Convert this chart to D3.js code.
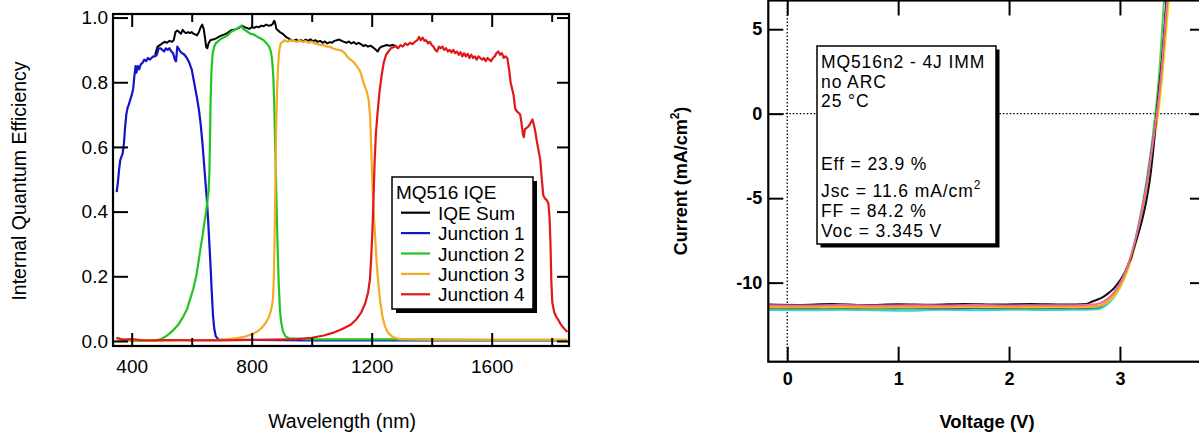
<!DOCTYPE html>
<html>
<head>
<meta charset="utf-8">
<script src="https://cdn.jsdelivr.net/npm/d3@7"></script>
<style>
  body { margin: 0; background: #fff; }
  svg { display: block; font-family: "Liberation Sans", Arial, Helvetica, sans-serif; }
</style>
</head>
<body>
<svg id="chart" width="1199" height="434"></svg>
<script>
// ---- IQE panel data (wavelength nm, IQE) ----
const iqeSum = [[478,0.885],[486,0.91],[494,0.915],[502,0.92],[510,0.925],[518,0.922],[526,0.928],[534,0.925],[540,0.93],[546,0.955],[552,0.96],[558,0.955],[564,0.95],[570,0.962],[576,0.955],[582,0.952],[588,0.955],[594,0.952],[600,0.955],[606,0.95],[612,0.948],[618,0.945],[624,0.955],[630,0.97],[635,0.978],[640,0.965],[644,0.94],[648,0.91],[652,0.905],[656,0.92],[662,0.93],[670,0.932],[680,0.935],[690,0.94],[700,0.945],[710,0.948],[720,0.953],[730,0.96],[740,0.962],[750,0.965],[760,0.97],[768,0.975],[776,0.97],[784,0.968],[792,0.965],[800,0.97],[808,0.968],[816,0.972],[824,0.97],[832,0.975],[840,0.973],[848,0.978],[856,0.975],[864,0.976],[870,0.98],[875,0.99],[878,0.985],[882,0.965],[888,0.96],[894,0.955],[900,0.952],[906,0.948],[912,0.942],[918,0.938],[924,0.935],[932,0.93],[940,0.928],[948,0.932],[956,0.927],[964,0.93],[972,0.926],[980,0.932],[988,0.928],[996,0.933],[1004,0.927],[1012,0.93],[1020,0.925],[1028,0.928],[1036,0.922],[1044,0.926],[1052,0.92],[1060,0.924],[1068,0.922],[1076,0.928],[1084,0.93],[1092,0.932],[1100,0.928],[1108,0.925],[1116,0.922],[1124,0.926],[1132,0.92],[1140,0.924],[1148,0.918],[1156,0.922],[1164,0.918],[1172,0.912],[1180,0.915],[1188,0.91],[1196,0.913],[1204,0.908],[1212,0.902],[1220,0.895],[1226,0.905],[1232,0.91],[1240,0.912],[1250,0.915],[1260,0.913],[1270,0.915],[1280,0.912],[1288,0.905]];

const iqeJ1 = [[350,0.46],[354,0.49],[358,0.53],[362,0.56],[366,0.57],[370,0.58],[374,0.61],[378,0.66],[382,0.70],[386,0.72],[390,0.73],[395,0.745],[400,0.76],[405,0.78],[409,0.82],[413,0.85],[416,0.83],[420,0.85],[425,0.84],[430,0.855],[436,0.86],[442,0.87],[448,0.865],[454,0.875],[460,0.87],[466,0.875],[472,0.88],[478,0.88],[484,0.885],[490,0.905],[496,0.905],[502,0.90],[508,0.895],[514,0.905],[520,0.90],[526,0.905],[532,0.895],[538,0.89],[544,0.87],[548,0.865],[552,0.91],[556,0.905],[562,0.895],[568,0.89],[576,0.885],[584,0.875],[592,0.86],[600,0.84],[606,0.81],[612,0.78],[618,0.75],[624,0.715],[630,0.67],[636,0.61],[641,0.55],[646,0.49],[651,0.43],[655,0.37],[659,0.30],[663,0.23],[667,0.15],[671,0.08],[675,0.04],[680,0.015],[690,0.004],[1000,0.002],[1850,0.002]];

const iqeJ2 = [[350,0.01],[360,0.005],[400,0.0],[450,0.0],[480,0.002],[495,0.005],[510,0.012],[525,0.022],[540,0.035],[555,0.05],[570,0.072],[585,0.10],[595,0.13],[605,0.16],[615,0.20],[622,0.24],[630,0.29],[637,0.33],[643,0.37],[648,0.40],[652,0.43],[656,0.46],[659,0.52],[661,0.62],[663,0.74],[666,0.84],[670,0.89],[675,0.91],[680,0.92],[686,0.925],[692,0.93],[700,0.935],[710,0.94],[720,0.945],[730,0.955],[740,0.96],[750,0.965],[758,0.97],[766,0.975],[772,0.965],[780,0.96],[788,0.955],[796,0.95],[804,0.948],[812,0.945],[820,0.94],[830,0.935],[840,0.93],[850,0.92],[858,0.91],[864,0.895],[868,0.87],[872,0.82],[875,0.74],[878,0.62],[881,0.50],[884,0.38],[887,0.27],[890,0.18],[894,0.10],[898,0.06],[904,0.03],[912,0.015],[925,0.008],[1000,0.005],[1300,0.005],[1600,0.003],[1850,0.003]];

const iqeJ3 = [[350,0.005],[380,0.0],[420,0.003],[480,0.0],[550,0.002],[620,0.003],[680,0.003],[720,0.006],[750,0.009],[775,0.013],[800,0.02],[820,0.03],[835,0.042],[848,0.058],[858,0.075],[866,0.10],[871,0.13],[874,0.20],[876,0.30],[878,0.42],[880,0.55],[882,0.68],[885,0.78],[888,0.85],[892,0.90],[897,0.92],[903,0.925],[910,0.93],[920,0.925],[930,0.93],[940,0.928],[950,0.925],[960,0.928],[970,0.925],[980,0.927],[990,0.922],[1000,0.925],[1010,0.92],[1020,0.918],[1030,0.915],[1040,0.915],[1050,0.91],[1060,0.91],[1070,0.905],[1080,0.902],[1090,0.90],[1100,0.898],[1110,0.89],[1118,0.88],[1126,0.872],[1134,0.867],[1142,0.86],[1150,0.85],[1158,0.84],[1165,0.825],[1172,0.80],[1178,0.785],[1184,0.77],[1190,0.745],[1195,0.69],[1199,0.58],[1203,0.47],[1207,0.39],[1211,0.33],[1216,0.25],[1222,0.18],[1228,0.125],[1236,0.075],[1244,0.046],[1255,0.025],[1270,0.012],[1290,0.006],[1400,0.004],[1850,0.004]];

const iqeJ4 = [[350,0.01],[370,0.004],[400,0.006],[430,0.003],[470,0.002],[520,0.003],[600,0.002],[700,0.002],[800,0.003],[880,0.004],[950,0.006],[1000,0.01],[1040,0.017],[1070,0.025],[1100,0.036],[1130,0.05],[1150,0.068],[1165,0.088],[1178,0.115],[1188,0.15],[1194,0.19],[1198,0.25],[1201,0.31],[1204,0.38],[1207,0.47],[1210,0.56],[1214,0.64],[1219,0.70],[1226,0.77],[1233,0.82],[1240,0.86],[1248,0.885],[1256,0.895],[1264,0.905],[1272,0.908],[1280,0.912],[1288,0.905],[1296,0.915],[1304,0.91],[1312,0.92],[1320,0.915],[1328,0.922],[1336,0.918],[1344,0.925],[1352,0.93],[1358,0.94],[1364,0.93],[1370,0.938],[1376,0.928],[1382,0.93],[1388,0.92],[1394,0.925],[1400,0.915],[1406,0.91],[1412,0.90],[1418,0.895],[1424,0.91],[1430,0.905],[1436,0.91],[1442,0.90],[1448,0.905],[1454,0.895],[1460,0.90],[1466,0.892],[1472,0.90],[1478,0.89],[1484,0.895],[1490,0.885],[1496,0.893],[1502,0.88],[1508,0.89],[1514,0.88],[1520,0.888],[1526,0.875],[1532,0.885],[1538,0.875],[1544,0.88],[1550,0.87],[1556,0.88],[1562,0.875],[1568,0.87],[1574,0.875],[1580,0.865],[1586,0.875],[1592,0.87],[1598,0.865],[1604,0.875],[1610,0.88],[1616,0.89],[1622,0.895],[1628,0.885],[1634,0.89],[1640,0.875],[1646,0.88],[1652,0.875],[1658,0.84],[1663,0.80],[1668,0.78],[1673,0.76],[1678,0.72],[1684,0.71],[1690,0.705],[1695,0.70],[1700,0.67],[1704,0.64],[1707,0.63],[1711,0.655],[1718,0.66],[1724,0.665],[1730,0.675],[1736,0.685],[1740,0.67],[1745,0.65],[1750,0.62],[1756,0.59],[1762,0.56],[1767,0.50],[1772,0.45],[1778,0.44],[1784,0.435],[1789,0.425],[1793,0.38],[1796,0.30],[1799,0.18],[1802,0.12],[1808,0.09],[1815,0.075],[1822,0.065],[1830,0.052],[1838,0.042],[1846,0.034],[1852,0.028]];

const iqeNames = ["IQE Sum", "Junction 1", "Junction 2", "Junction 3", "Junction 4"];
const iqeColors = ["#000000", "#1414c8", "#22c422", "#f2ab22", "#e01818"];
const iqeXMajor = [400, 800, 1200, 1600];
const iqeXMinor = [600, 1000, 1400, 1800];
const iqeYTicks = [0, 0.2, 0.4, 0.6, 0.8, 1.0];

// ---- IV panel data (voltage V, current mA/cm2) ----
const ivCyan = [[-0.17,-11.62],[0.2,-11.64],[0.5,-11.6],[0.8,-11.63],[1.1,-11.66],[1.4,-11.61],[1.7,-11.63],[2.0,-11.6],[2.3,-11.62],[2.6,-11.61],[2.8,-11.58],[2.85,-11.45],[2.90,-11.2],[2.95,-10.85],[3.00,-10.3],[3.05,-9.55],[3.10,-8.55],[3.15,-7.3],[3.20,-5.8],[3.25,-3.9],[3.30,-1.6],[3.34,0.5],[3.37,2.6],[3.40,5.0],[3.43,7.6]];
const ivGreen = [[-0.17,-11.55],[0.2,-11.56],[0.5,-11.54],[0.8,-11.57],[1.1,-11.55],[1.4,-11.56],[1.7,-11.53],[2.0,-11.56],[2.3,-11.55],[2.6,-11.54],[2.8,-11.5],[2.85,-11.38],[2.90,-11.12],[2.95,-10.75],[3.00,-10.2],[3.05,-9.45],[3.10,-8.4],[3.15,-7.1],[3.20,-5.5],[3.25,-3.5],[3.30,-1.1],[3.33,0.7],[3.36,2.9],[3.39,6.0],[3.41,7.8]];
const ivBlue = [[-0.17,-11.48],[0.2,-11.5],[0.5,-11.47],[0.8,-11.5],[1.1,-11.49],[1.4,-11.52],[1.7,-11.48],[2.0,-11.5],[2.3,-11.47],[2.6,-11.49],[2.8,-11.45],[2.85,-11.32],[2.90,-11.08],[2.95,-10.72],[3.00,-10.2],[3.05,-9.48],[3.10,-8.5],[3.15,-7.25],[3.20,-5.7],[3.25,-3.8],[3.30,-1.5],[3.34,0.4],[3.37,2.4],[3.40,4.9],[3.43,7.6]];
const ivYellow = [[-0.17,-11.45],[0.2,-11.46],[0.5,-11.44],[0.8,-11.47],[1.1,-11.45],[1.4,-11.46],[1.7,-11.43],[2.0,-11.46],[2.3,-11.44],[2.6,-11.45],[2.8,-11.42],[2.85,-11.3],[2.90,-11.1],[2.95,-10.78],[3.00,-10.3],[3.05,-9.62],[3.10,-8.7],[3.15,-7.5],[3.20,-6.0],[3.25,-4.2],[3.30,-2.0],[3.35,0.2],[3.38,2.0],[3.41,4.2],[3.45,7.4]];
const ivOrange = [[-0.17,-11.42],[0.2,-11.43],[0.5,-11.41],[0.8,-11.44],[1.1,-11.42],[1.4,-11.43],[1.7,-11.4],[2.0,-11.43],[2.3,-11.41],[2.6,-11.42],[2.8,-11.38],[2.85,-11.25],[2.90,-11.05],[2.95,-10.7],[3.00,-10.2],[3.05,-9.5],[3.10,-8.55],[3.15,-7.35],[3.20,-5.85],[3.25,-4.0],[3.30,-1.8],[3.345,0.3],[3.37,1.9],[3.40,4.1],[3.44,7.3]];
const ivBlack = [[-0.17,-11.3],[0.1,-11.32],[0.4,-11.27],[0.7,-11.33],[1.0,-11.28],[1.3,-11.31],[1.6,-11.26],[1.9,-11.3],[2.2,-11.27],[2.5,-11.3],[2.7,-11.26],[2.745,-11.13],[2.80,-11.0],[2.85,-10.84],[2.90,-10.6],[2.94,-10.38],[2.98,-10.05],[3.015,-9.72],[3.05,-9.3],[3.075,-8.9],[3.10,-8.55],[3.12,-8.1],[3.15,-7.45],[3.20,-6.3],[3.24,-5.1],[3.27,-3.9],[3.30,-2.2],[3.33,0.0],[3.355,1.6],[3.38,3.2],[3.40,4.8],[3.42,6.7],[3.43,7.6]];
const ivPink = [[-0.17,-11.34],[0.2,-11.35],[0.5,-11.33],[0.8,-11.36],[1.1,-11.34],[1.4,-11.35],[1.7,-11.33],[2.0,-11.35],[2.3,-11.34],[2.6,-11.34],[2.75,-11.3],[2.80,-11.25],[2.85,-11.12],[2.90,-10.9],[2.95,-10.55],[3.00,-10.05],[3.05,-9.35],[3.10,-8.4],[3.15,-7.2],[3.20,-5.7],[3.25,-3.9],[3.30,-1.6],[3.34,0.4],[3.37,2.2],[3.40,4.6],[3.435,7.5]];
const ivSeries = [ivCyan, ivGreen, ivBlue, ivYellow, ivOrange, ivBlack, ivPink];
const ivColors = ["#2fd6e0", "#4ccf4c", "#4a3fb0", "#f3e21a", "#f5a623", "#111111", "#ec6aa0"];
const ivXTicks = [0, 1, 2, 3];
const ivYTicks = [5, 0, -5, -10];
const ivInfo = ["MQ516n2 - 4J IMM", "no ARC", "25 °C", "Eff = 23.9 %", "Jsc = 11.6 mA/cm", "FF = 84.2 %", "Voc = 3.345 V"];

var svg = d3.select("#chart");

function styleAxis(g, size, bold) {
    g.select(".domain").remove();
    g.selectAll(".tick line").attr("stroke", "#000").attr("stroke-width", 2);
    g.selectAll("text")
        .attr("fill", "#000")
        .style("font-family", '"Liberation Sans", Arial, sans-serif')
        .style("font-size", size + "px")
        .style("font-weight", bold ? "bold" : "normal");
}
// plain hyphen minus, no thousands comma
function plainNum(d) { return String(d); }

// ================= left panel: IQE =================
var L = { left: 113, right: 569, top: 14, bottom: 346 };
var xL = d3.scaleLinear().domain([337.7, 1857.7]).range([L.left, L.right]);
var yL = d3.scaleLinear().domain([-0.0155, 1.011]).range([L.bottom, L.top]);

svg.append("clipPath").attr("id", "clipL").append("rect")
    .attr("x", L.left).attr("y", L.top).attr("width", L.right - L.left).attr("height", L.bottom - L.top);

var lineL = d3.line().x(function (d) { return xL(d[0]); }).y(function (d) { return yL(d[1]); });
var iqeData = [iqeSum, iqeJ1, iqeJ2, iqeJ3, iqeJ4];
svg.append("g").attr("clip-path", "url(#clipL)")
    .selectAll("path")
    .data(iqeData)
    .enter()
    .append("path")
    .attr("d", lineL)
    .attr("fill", "none")
    .attr("stroke", function (d, i) { return iqeColors[i]; })
    .attr("stroke-width", function (d, i) { return i == 0 ? 2 : 2.2; })
    .attr("stroke-linejoin", "round");

// axes (ticks point inward)
svg.append("g").attr("transform", "translate(0," + L.bottom + ")")
    .call(d3.axisBottom(xL).tickValues(iqeXMajor).tickSizeInner(-13).tickSizeOuter(0).tickPadding(14).tickFormat(plainNum))
    .call(styleAxis, 19, false);
svg.append("g").attr("transform", "translate(0," + L.bottom + ")")
    .call(d3.axisBottom(xL).tickValues(iqeXMinor).tickSizeInner(-8).tickSizeOuter(0).tickFormat(""))
    .call(styleAxis, 19, false);
svg.append("g").attr("transform", "translate(0," + L.top + ")")
    .call(d3.axisTop(xL).tickValues(iqeXMajor).tickSizeInner(-13).tickSizeOuter(0).tickFormat(""))
    .call(styleAxis, 19, false);
svg.append("g").attr("transform", "translate(0," + L.top + ")")
    .call(d3.axisTop(xL).tickValues(iqeXMinor).tickSizeInner(-8).tickSizeOuter(0).tickFormat(""))
    .call(styleAxis, 19, false);
svg.append("g").attr("transform", "translate(" + L.left + ",0)")
    .call(d3.axisLeft(yL).tickValues(iqeYTicks).tickSizeInner(-15).tickSizeOuter(0).tickPadding(5).tickFormat(d3.format(".1f")))
    .call(styleAxis, 19, false);
svg.append("g").attr("transform", "translate(" + L.right + ",0)")
    .call(d3.axisRight(yL).tickValues(iqeYTicks).tickSizeInner(-12).tickSizeOuter(0).tickFormat(""))
    .call(styleAxis, 19, false);

svg.append("rect")
    .attr("x", L.left).attr("y", L.top).attr("width", L.right - L.left).attr("height", L.bottom - L.top)
    .attr("fill", "none").attr("stroke", "#000").attr("stroke-width", 2.2);

svg.append("text")
    .attr("transform", "translate(26,181) rotate(-90)")
    .attr("text-anchor", "middle")
    .style("font-size", "19.5px")
    .text("Internal Quantum Efficiency");
svg.append("text")
    .attr("x", 342).attr("y", 428)
    .attr("text-anchor", "middle")
    .style("font-size", "19.5px")
    .text("Wavelength (nm)");

// legend box with drop shadow
var leg = svg.append("g");
leg.append("rect").attr("x", 396).attr("y", 181).attr("width", 141).attr("height", 132).attr("fill", "#000");
leg.append("rect").attr("x", 392).attr("y", 177).attr("width", 141).attr("height", 132)
    .attr("fill", "#fff").attr("stroke", "#000").attr("stroke-width", 1.5);
leg.append("text").attr("x", 396).attr("y", 198.5).style("font-size", "19px").text("MQ516 IQE");
var legRows = leg.selectAll(".leg-row")
    .data(iqeNames)
    .enter()
    .append("g")
    .attr("class", "leg-row")
    .attr("transform", function (d, i) { return "translate(0," + (212.7 + i * 20.4) + ")"; });
legRows.append("line")
    .attr("x1", 401).attr("x2", 430).attr("y1", 0).attr("y2", 0)
    .attr("stroke", function (d, i) { return iqeColors[i]; })
    .attr("stroke-width", 2.2);
legRows.append("text")
    .attr("x", 438).attr("y", 7)
    .style("font-size", "19px")
    .text(function (d) { return d; });

// ================= right panel: IV =================
var R = { left: 768.3, right: 1201, top: 0.5, bottom: 361.7 };
var xR = d3.scaleLinear().domain([-0.171, 3.731]).range([R.left, R.right]);
var yR = d3.scaleLinear().domain([-14.68, 6.70]).range([R.bottom, R.top]);

svg.append("clipPath").attr("id", "clipR").append("rect")
    .attr("x", R.left).attr("y", R.top).attr("width", R.right - R.left).attr("height", R.bottom - R.top);

// dotted zero lines
svg.append("line")
    .attr("x1", xR(0)).attr("x2", xR(0)).attr("y1", R.top).attr("y2", R.bottom)
    .attr("stroke", "#000").attr("stroke-width", 1.3).attr("stroke-dasharray", "1.5,2");
svg.append("line")
    .attr("x1", R.left).attr("x2", R.right).attr("y1", yR(0)).attr("y2", yR(0))
    .attr("stroke", "#000").attr("stroke-width", 1.3).attr("stroke-dasharray", "1.5,2");

var lineR = d3.line().x(function (d) { return xR(d[0]); }).y(function (d) { return yR(d[1]); })
    .curve(d3.curveMonotoneX);
svg.append("g").attr("clip-path", "url(#clipR)")
    .selectAll("path")
    .data(ivSeries)
    .enter()
    .append("path")
    .attr("d", lineR)
    .attr("fill", "none")
    .attr("stroke", function (d, i) { return ivColors[i]; })
    .attr("stroke-width", 2);

svg.append("g").attr("transform", "translate(0," + R.bottom + ")")
    .call(d3.axisBottom(xR).tickValues(ivXTicks).tickSizeInner(-15).tickSizeOuter(0).tickPadding(11).tickFormat(plainNum))
    .call(styleAxis, 18, true);
svg.append("g").attr("transform", "translate(0," + R.top + ")")
    .call(d3.axisTop(xR).tickValues(ivXTicks).tickSizeInner(-15).tickSizeOuter(0).tickFormat(""))
    .call(styleAxis, 18, true);
svg.append("g").attr("transform", "translate(" + R.left + ",0)")
    .call(d3.axisLeft(yR).tickValues(ivYTicks).tickSizeInner(-15).tickSizeOuter(0).tickPadding(6).tickFormat(plainNum))
    .call(styleAxis, 18, true);
svg.append("g").attr("transform", "translate(" + R.right + ",0)")
    .call(d3.axisRight(yR).tickValues(ivYTicks).tickSizeInner(-11).tickSizeOuter(0).tickFormat(""))
    .call(styleAxis, 18, true);

svg.append("rect")
    .attr("x", R.left).attr("y", R.top).attr("width", R.right - R.left).attr("height", R.bottom - R.top)
    .attr("fill", "none").attr("stroke", "#000").attr("stroke-width", 2.2);

var yTitle = svg.append("text")
    .attr("transform", "translate(687,181) rotate(-90)")
    .attr("text-anchor", "middle")
    .style("font-size", "18px").style("font-weight", "bold");
yTitle.append("tspan").text("Current (mA/cm");
yTitle.append("tspan").attr("dy", -8).style("font-size", "12px").text("2");
yTitle.append("tspan").attr("dy", 8).text(")");

svg.append("text")
    .attr("x", 987).attr("y", 428)
    .attr("text-anchor", "middle")
    .style("font-size", "18.5px").style("font-weight", "bold")
    .text("Voltage (V)");

// info box with drop shadow
var info = svg.append("g");
info.append("rect").attr("x", 820.5).attr("y", 49.5).attr("width", 179).attr("height", 198).attr("fill", "#000");
info.append("rect").attr("x", 817).attr("y", 46).attr("width", 179).attr("height", 198)
    .attr("fill", "#fff").attr("stroke", "#000").attr("stroke-width", 1.5);
var infoY = [68, 87.7, 107.4, 170, 197, 217, 236.7];
info.selectAll(".info-line")
    .data(ivInfo)
    .enter()
    .append("text")
    .attr("class", "info-line")
    .attr("x", 821)
    .attr("y", function (d, i) { return infoY[i]; })
    .style("font-size", "17.5px")
    .style("letter-spacing", "0.9px")
    .each(function (d, i) {
        var t = d3.select(this);
        t.append("tspan").text(d);
        if (i == 4) {
            t.append("tspan").attr("dy", -8).style("font-size", "12px").text("2");
        }
    });
</script>
</body>
</html>
